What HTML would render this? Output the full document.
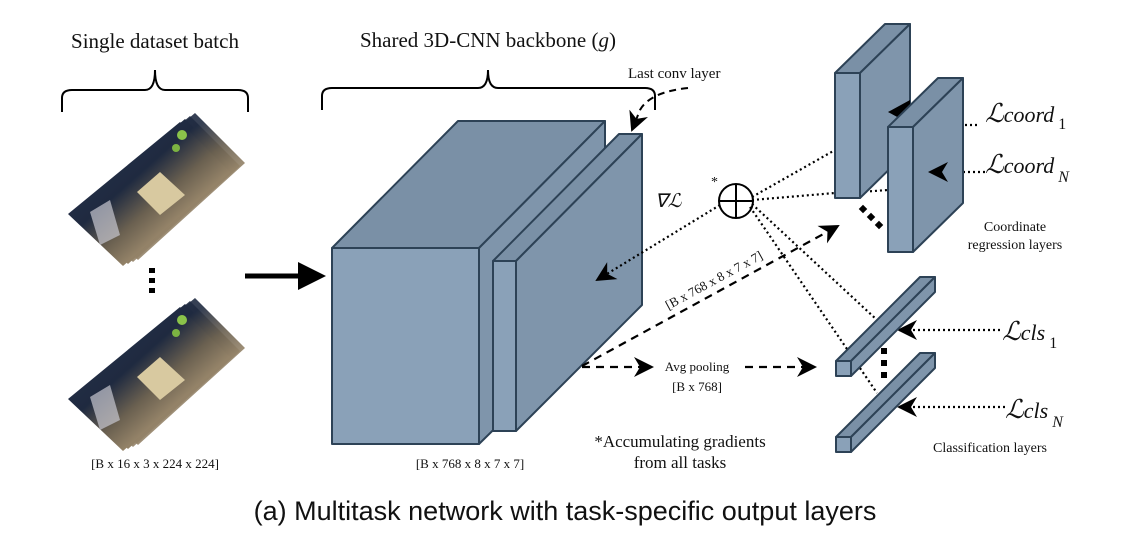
<!DOCTYPE html>
<html><head><meta charset="utf-8"><style>
html,body{margin:0;padding:0;background:#fff;width:1131px;height:552px;overflow:hidden}
svg{display:block}
.s{font-family:"Liberation Serif",serif;fill:#111}
.m{font-family:"Liberation Serif",serif;font-style:italic;fill:#111}
</style></head><body>
<svg width="1131" height="552" viewBox="0 0 1131 552" xmlns="http://www.w3.org/2000/svg">
<defs>
<marker id="ahb" viewBox="0 0 10 10" refX="9" refY="5" markerWidth="20" markerHeight="20" orient="auto" markerUnits="userSpaceOnUse">
<path d="M0,0 L10,5 L0,10 L3,5 z" fill="#000"/></marker>
<linearGradient id="img" x1="0" y1="0" x2="1" y2="1">
<stop offset="0" stop-color="#2a3550"/><stop offset="0.4" stop-color="#1f2a40"/><stop offset="0.55" stop-color="#6a6050"/><stop offset="0.75" stop-color="#b09a78"/><stop offset="1" stop-color="#d0c0a0"/></linearGradient>
</defs>

<text class="s" x="155" y="48" font-size="21" text-anchor="middle">Single dataset batch</text>
<text class="s" x="488" y="47" font-size="21" text-anchor="middle">Shared 3D-CNN backbone (<tspan font-style="italic">g</tspan>)</text>

<path d="M62,112 V98 Q62,90 72,90 H145 Q155,90 155,70 Q155,90 165,90 H238 Q248,90 248,98 V112" fill="none" stroke="#000" stroke-width="2"/>
<path d="M322,110 V96 Q322,88 332,88 H478 Q488,88 488,70 Q488,88 498,88 H645 Q655,88 655,96 V110" fill="none" stroke="#000" stroke-width="2"/>

<g>
<polygon points="195,113 245,163 138,260 83,207" fill="url(#img)" opacity="0.9"/>
<polygon points="190,116 240,166 133,262 78,210" fill="url(#img)" opacity="0.9"/>
<polygon points="185,119 235,169 128,264 73,212" fill="url(#img)"/>
<polygon points="180,122 230,172 123,266 68,214" fill="url(#img)"/>
<polygon points="90,212 110,200 120,235 100,245" fill="#c8c8d0" opacity="0.7"/>
<circle cx="182" cy="135" r="5" fill="#8bc34a"/><circle cx="176" cy="148" r="4" fill="#7cb342"/>
<polygon points="160,172 185,195 160,215 137,192" fill="#d8c9a0"/>
</g>
<g transform="translate(0,185)">
<polygon points="195,113 245,163 138,260 83,207" fill="url(#img)" opacity="0.9"/>
<polygon points="190,116 240,166 133,262 78,210" fill="url(#img)" opacity="0.9"/>
<polygon points="185,119 235,169 128,264 73,212" fill="url(#img)"/>
<polygon points="180,122 230,172 123,266 68,214" fill="url(#img)"/>
<polygon points="90,212 110,200 120,235 100,245" fill="#c8c8d0" opacity="0.7"/>
<circle cx="182" cy="135" r="5" fill="#8bc34a"/><circle cx="176" cy="148" r="4" fill="#7cb342"/>
<polygon points="160,172 185,195 160,215 137,192" fill="#d8c9a0"/>
</g>
<rect x="149" y="268" width="6" height="5" fill="#000"/><rect x="149" y="278" width="6" height="5" fill="#000"/><rect x="149" y="288" width="6" height="5" fill="#000"/>
<text class="s" x="155" y="468" font-size="13" text-anchor="middle">[B x 16 x 3 x 224 x 224]</text>

<line x1="245" y1="276" x2="300" y2="276" stroke="#000" stroke-width="5"/>
<polygon points="298,262 326,276 298,290" fill="#000"/>

<g stroke="#2d4256" stroke-width="2" stroke-linejoin="round">
<polygon points="332,248 458,121 605,121 479,248" fill="#7a90a6"/>
<polygon points="479,248 605,121 605,320 479,444" fill="#7f95ab"/>
<rect x="332" y="248" width="147" height="196" fill="#8aa1b8"/>
<polygon points="493,261 619,134 642,134 516,261" fill="#7a90a6"/>
<polygon points="516,261 642,134 642,305 516,431" fill="#7f95ab"/>
<rect x="493" y="261" width="23" height="170" fill="#8aa1b8"/>
</g>
<text class="s" x="470" y="468" font-size="13" text-anchor="middle">[B x 768 x 8 x 7 x 7]</text>

<text class="s" x="628" y="78" font-size="15">Last conv layer</text>
<path d="M688,88 Q650,92 640,110 L632,130" fill="none" stroke="#000" stroke-width="2" stroke-dasharray="7,5" marker-end="url(#ahb)"/>

<circle cx="736" cy="201" r="17" fill="#fff" stroke="#000" stroke-width="2"/>
<line x1="719" y1="201" x2="753" y2="201" stroke="#000" stroke-width="2"/>
<line x1="736" y1="184" x2="736" y2="218" stroke="#000" stroke-width="2"/>
<text class="s" x="711" y="186" font-size="14">*</text>
<text class="m" x="655" y="207" font-size="19">∇ℒ</text>

<g stroke="#000" stroke-width="2.2" stroke-dasharray="2,3" fill="none">
<line x1="720" y1="205" x2="597" y2="280" marker-end="url(#ahb)"/>
<line x1="752" y1="197" x2="835" y2="150"/>
<line x1="752" y1="200" x2="835" y2="193"/>
<line x1="860" y1="192" x2="888" y2="190"/>
<line x1="752" y1="204" x2="877" y2="320"/>
<line x1="750" y1="207" x2="877" y2="393"/>
<line x1="965" y1="125" x2="978" y2="125"/>
<line x1="985" y1="172" x2="930" y2="172" marker-end="url(#ahb)"/>
<line x1="1000" y1="330" x2="899" y2="330" marker-end="url(#ahb)"/>
<line x1="1005" y1="407" x2="899" y2="407" marker-end="url(#ahb)"/>
</g>

<g stroke="#000" stroke-width="2.2" stroke-dasharray="8,6" fill="none">
<line x1="582" y1="366" x2="838" y2="226" marker-end="url(#ahb)"/>
<line x1="582" y1="367" x2="652" y2="367" marker-end="url(#ahb)"/>
<line x1="745" y1="367" x2="815" y2="367" marker-end="url(#ahb)"/>
</g>
<text class="s" x="716" y="284" font-size="13" text-anchor="middle" transform="rotate(-28.5 716 284)">[B x 768 x 8 x 7 x 7]</text>
<text class="s" x="697" y="371" font-size="13" text-anchor="middle">Avg pooling</text>
<text class="s" x="697" y="391" font-size="13" text-anchor="middle">[B x 768]</text>

<g stroke="#2d4256" stroke-width="2" stroke-linejoin="round">
<polygon points="835,73 885,24 910,24 860,73" fill="#7a90a6"/>
<polygon points="860,73 910,24 910,149 860,198" fill="#7f95ab"/>
<rect x="835" y="73" width="25" height="125" fill="#8aa1b8"/>
</g>
<polygon points="888,112 910,100 910,124" fill="#000"/>
<g stroke="#2d4256" stroke-width="2" stroke-linejoin="round">
<polygon points="888,127 938,78 963,78 913,127" fill="#7a90a6"/>
<polygon points="913,127 963,78 963,203 913,252" fill="#7f95ab"/>
<rect x="888" y="127" width="25" height="125" fill="#8aa1b8"/>
</g>
<polygon points="928,172 948,162 942,172 948,182" fill="#000"/>
<g fill="#000"><rect x="860" y="206" width="6" height="6" transform="rotate(45 863 209)"/><rect x="868" y="214" width="6" height="6" transform="rotate(45 871 217)"/><rect x="876" y="222" width="6" height="6" transform="rotate(45 879 225)"/></g>
<text class="s" x="1015" y="231" font-size="14" text-anchor="middle">Coordinate</text>
<text class="s" x="1015" y="249" font-size="14" text-anchor="middle">regression layers</text>
<text class="m" x="985" y="122" font-size="26">ℒ<tspan font-size="22">coord</tspan><tspan font-style="normal" font-size="16" dy="7"> 1</tspan></text>
<text class="m" x="985" y="173" font-size="26">ℒ<tspan font-size="22">coord</tspan><tspan font-size="16" dy="9"> N</tspan></text>

<g stroke="#2d4256" stroke-width="2" stroke-linejoin="round">
<polygon points="836,361 920,277 935,277 851,361" fill="#7a90a6"/>
<polygon points="851,361 935,277 935,292 851,376" fill="#7f95ab"/>
<rect x="836" y="361" width="15" height="15" fill="#8aa1b8"/>
<polygon points="836,437 920,353 935,353 851,437" fill="#7a90a6"/>
<polygon points="851,437 935,353 935,368 851,452" fill="#7f95ab"/>
<rect x="836" y="437" width="15" height="15" fill="#8aa1b8"/>
</g>
<rect x="881" y="348" width="6" height="6" fill="#000"/><rect x="881" y="360" width="6" height="6" fill="#000"/><rect x="881" y="372" width="6" height="6" fill="#000"/>
<text class="m" x="1002" y="340" font-size="26">ℒ<tspan font-size="22">cls</tspan><tspan font-style="normal" font-size="16" dy="8"> 1</tspan></text>
<text class="m" x="1005" y="418" font-size="26">ℒ<tspan font-size="22">cls</tspan><tspan font-size="16" dy="9"> N</tspan></text>
<text class="s" x="990" y="452" font-size="14" text-anchor="middle">Classification layers</text>

<text class="s" x="680" y="447" font-size="17" text-anchor="middle">*Accumulating gradients</text>
<text class="s" x="680" y="468" font-size="17" text-anchor="middle">from all tasks</text>

<text x="565" y="520" font-family="'Liberation Sans',sans-serif" font-size="27" text-anchor="middle" fill="#111">(a) Multitask network with task-specific output layers</text>
</svg>
</body></html>
